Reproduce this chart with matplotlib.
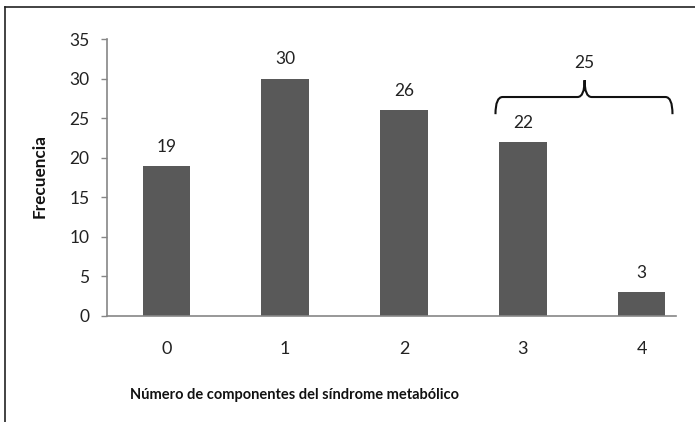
import matplotlib
matplotlib.use("Agg")
import matplotlib.pyplot as plt
from matplotlib.path import Path
from matplotlib.patches import PathPatch
from matplotlib.lines import Line2D

plt.rcParams['font.family'] = ['Lato', 'DejaVu Sans']

categories = ["0", "1", "2", "3", "4"]
frecuencia = [19, 30, 26, 22, 3]
yticks = [0, 5, 10, 15, 20, 25, 30, 35]
grupo_total = 25  # components 3 and 4 combined

bar_color = "#595959"
axis_color = "#868686"
text_color = "#222222"

fig = plt.figure(figsize=(6.95, 4.22), dpi=100)
ax = fig.add_axes([107 / 695, 1 - 316 / 422, 594 / 695, 277 / 422])

x = list(range(len(categories)))
ax.bar(x, frecuencia, width=0.4, color=bar_color, zorder=2)

ax.set_xlim(-0.5, len(categories) - 0.5)
ax.set_ylim(0, 35)
ax.set_yticks(yticks)
ax.set_xticks(x)
ax.set_xticklabels(categories)

for s in ("top", "right"):
    ax.spines[s].set_visible(False)
for s in ("left", "bottom"):
    ax.spines[s].set_color(axis_color)
    ax.spines[s].set_linewidth(1.2)
ax.spines["bottom"].set_bounds(-0.5, 4.29)

ax.tick_params(axis="y", length=4.5, width=1, color=axis_color, pad=8,
               labelsize=12.5, labelcolor=text_color)
ax.tick_params(axis="x", length=0, pad=18, labelsize=13, labelcolor=text_color)

# value labels above each bar
for xi, v in zip(x, frecuencia):
    ax.annotate(str(v), (xi, v), xytext=(0, 8), textcoords="offset points",
                ha="center", va="bottom", fontsize=12.5, color=text_color)

# curly brace grouping components 3 and 4
x0, x1, xm = 2.77, 4.26, 3.52
y_end, y_bar, y_tip = 25.5, 27.67, 29.8
r = 0.06
verts = [
    (x0, y_end), (x0, y_bar), (x0 + r, y_bar),
    (xm - r, y_bar), (xm, y_bar), (xm, y_tip),
    (xm, y_bar), (xm + r, y_bar),
    (x1 - r, y_bar), (x1, y_bar), (x1, y_end),
]
codes = [
    Path.MOVETO, Path.CURVE3, Path.CURVE3,
    Path.LINETO, Path.CURVE3, Path.CURVE3,
    Path.CURVE3, Path.CURVE3,
    Path.LINETO, Path.CURVE3, Path.CURVE3,
]
brace = PathPatch(Path(verts, codes), facecolor="none", edgecolor="#111111",
                  linewidth=1.5, clip_on=False, zorder=3)
ax.add_patch(brace)
ax.text(xm, 31.0, str(grupo_total), ha="center", va="bottom",
        fontsize=12.5, color=text_color)

fig.text(40 / 695, 1 - 176 / 422, "Frecuencia", rotation=90, ha="center",
         va="center", fontsize=12.3, fontweight="bold", color="#111111")
fig.text(294 / 695, 1 - 395 / 422, "Número de componentes del síndrome metabólico",
         ha="center", va="center", fontsize=10.5, fontweight="bold", color="#111111")

# chart frame
fig.add_artist(Line2D([5 / 695, 1.0], [1 - 7 / 422] * 2, transform=fig.transFigure,
                      color="#222222", linewidth=1.2))
fig.add_artist(Line2D([5 / 695] * 2, [0, 1 - 7 / 422], transform=fig.transFigure,
                      color="#222222", linewidth=1.2))

fig.savefig("out.png", dpi=100)
